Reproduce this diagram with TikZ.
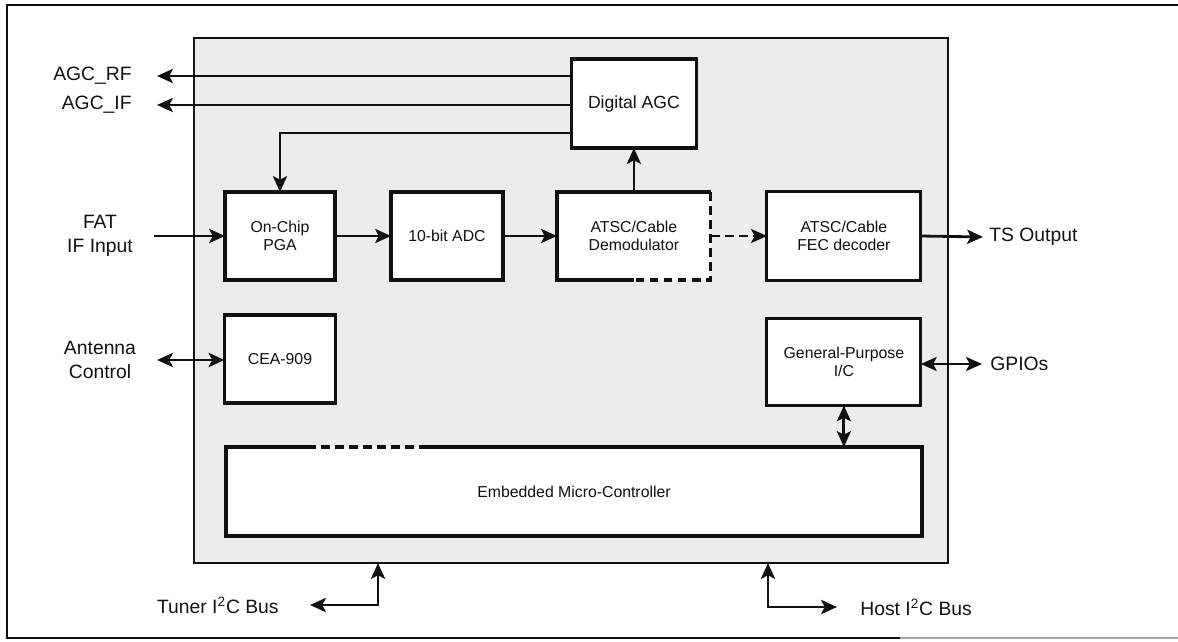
\documentclass[tikz,border=0pt]{standalone}
\usepackage{fontspec}
\setmainfont{Liberation Sans}
\usepackage{tikz}
\usetikzlibrary{arrows.meta, positioning}
\definecolor{chipgray}{HTML}{ECECEC}
\definecolor{inkblack}{HTML}{111111}
\tikzset{
    blockbox/.style={
        rectangle, draw=inkblack, fill=white, line width=1.8pt,
        outer sep=0pt, align=center, text=inkblack,
        font=\fontsize{9}{10.2}\selectfont,
        minimum width=#1, minimum height=1.76cm
    },
    blockbox/.default=2.2cm,
    chipbox/.style={
        draw=inkblack, fill=chipgray, line width=1.5pt
    },
    boxline/.style={
        draw=inkblack, line width=1.8pt
    },
    siglabel/.style={
        font=\fontsize{11}{14}\selectfont, text=inkblack,
        align=center, inner sep=0pt
    },
    sigarrow/.style={
        -{Stealth[length=9pt, width=8pt, inset=2pt]}, line width=1.6pt, color=inkblack
    },
    bidarrow/.style={
        {Stealth[length=9pt, width=8pt, inset=2pt]}-{Stealth[length=9pt, width=8pt, inset=2pt]},
        line width=1.6pt, color=inkblack
    },
    dasharrow/.style={
        -{Stealth[length=9pt, width=8pt, inset=2pt]}, line width=1.6pt, color=inkblack,
        dash pattern=on 5pt off 3pt
    },
}

\begin{document}
\begin{tikzpicture}[x=0.02cm, y=-0.02cm]
    \useasboundingbox (0,0) rectangle (1178,642);

    % Page frame
    \draw[line width=1.6pt, inkblack] (1178,5) -- (7,5) -- (7,638) -- (900,638);
    \draw[line width=1.6pt, black!35] (900,638) -- (1178,638);

    % Chip area
    \coordinate (chipnw) at (194,38);
    \coordinate (chipse) at (948,563);
    \draw[chipbox] (chipnw) rectangle (chipse);

    % Signal path
    \node[blockbox] (pga) at (280,236) {On-Chip\\PGA};
    \node[blockbox=2.24cm, right=1.12cm of pga] (adc) {10-bit ADC};
    \node[blockbox=3.08cm, draw=none, right=1.08cm of adc] (demod) {ATSC/Cable\\Demodulator};
    \node[blockbox=3.08cm, minimum height=1.78cm, right=1.12cm of demod] (fec) {ATSC/Cable\\FEC decoder};
    \node[blockbox=2.5cm, minimum height=1.78cm, above=0.88cm of demod, font=\fontsize{10}{11}\selectfont] (agc) {Digital AGC};

    % Control blocks
    \node[blockbox=2.22cm, below=0.7cm of pga] (cea) {CEA-909};
    \node[blockbox=3.08cm, minimum height=1.74cm, below=0.76cm of fec] (gpio) {General-Purpose\\I/C};
    \node[blockbox=13.92cm, minimum height=1.78cm, draw=none] (mcu) at (574,491.5) {Embedded Micro-Controller};

    % Broken outlines as printed
    \draw[boxline] (demod.south) -- (demod.south west) -- (demod.north west) -- (demod.north east);
    \draw[boxline, dash pattern=on 5pt off 3pt] (demod.north east) -- (demod.south east) -- (demod.south);
    \draw[boxline] ([xshift=1.62cm]mcu.north west) -- (mcu.north west) -- (mcu.south west)
        -- (mcu.south east) -- (mcu.north east) -- ([xshift=4.02cm]mcu.north west);
    \draw[boxline, dash pattern=on 5pt off 3pt] ([xshift=1.62cm]mcu.north west) -- ([xshift=4.02cm]mcu.north west);

    % AGC outputs
    \coordinate (rfend) at (157,76);
    \coordinate (ifend) at (157,105);
    \node[siglabel, left=0.5cm of rfend] (agcrf) {AGC\_RF};
    \node[siglabel, left=0.5cm of ifend] (agcif) {AGC\_IF};
    \draw[sigarrow] (agc.west |- rfend) -- (rfend);
    \draw[sigarrow] (agc.west |- ifend) -- (ifend);
    \draw[sigarrow] ([yshift=-0.59cm]agc.west) -| (pga.north);
    \draw[sigarrow] (demod.north) -- (agc.south);

    % Data path arrows
    \coordinate (fatin) at (154,236);
    \node[siglabel] (fat) at (100,236) {FAT\\IF Input};
    \draw[sigarrow] (fatin) -- (pga.west);
    \draw[sigarrow] (pga.east) -- (adc.west);
    \draw[sigarrow] (adc.east) -- (demod.west);
    \draw[dasharrow] (demod.east) -- (fec.west);

    \coordinate (tsend) at (983,237);
    \node[siglabel, anchor=west] (tsout) at ([xshift=0.12cm]tsend) {TS Output};
    \draw[sigarrow] (fec.east) -- (tsend);

    % Control interfaces
    \coordinate (antend) at (157,360);
    \node[siglabel] (ant) at (100,360) {Antenna\\Control};
    \draw[bidarrow] (antend) -- (cea.west |- antend);

    \coordinate (gpend) at (982,364);
    \node[siglabel, anchor=west] (gpios) at ([xshift=0.16cm]gpend) {GPIOs};
    \draw[bidarrow] (gpio.east |- gpend) -- (gpend);
    \draw[bidarrow] (gpio.south) -- (gpio.south |- mcu.north);

    % I2C buses
    \coordinate (tunertap) at (378,563);
    \coordinate (tunerend) at (310,605);
    \node[siglabel, anchor=east] (tuner) at ([xshift=-0.62cm]tunerend) {Tuner I\textsuperscript{2}C Bus};
    \draw[bidarrow] (tunertap) |- (tunerend);

    \coordinate (hosttap) at (768,563);
    \coordinate (hostend) at (837,607);
    \node[siglabel, anchor=west] (host) at ([xshift=0.46cm]hostend) {Host I\textsuperscript{2}C Bus};
    \draw[bidarrow] (hosttap) |- (hostend);

\end{tikzpicture}
\end{document}
